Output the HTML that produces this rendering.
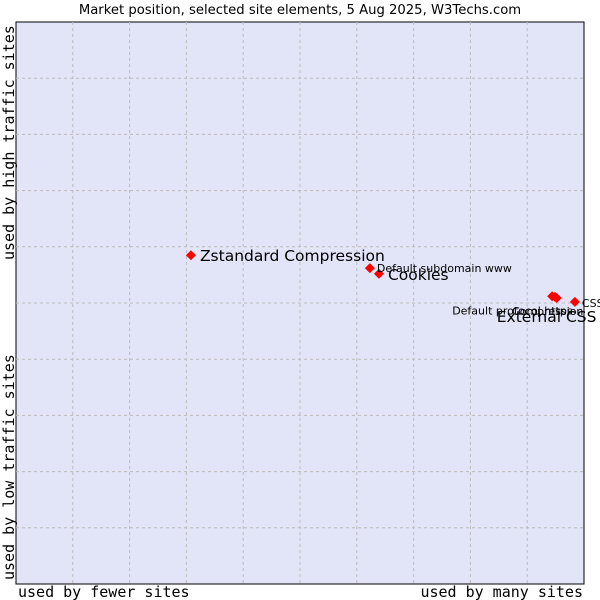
<!DOCTYPE html>
<html><head><meta charset="utf-8"><style>
body{margin:0;background:#fff;}
svg{display:block;font-family:"DejaVu Sans",sans-serif;}
</style></head><body>
<svg id="chart" width="600" height="600">
<text x="300" y="14" text-anchor="middle" font-size="13.2" fill="#000">Market position, selected site elements, 5 Aug 2025, W3Techs.com</text>
<rect x="16" y="22" width="568" height="562" fill="#e2e4f8" stroke="#000" stroke-width="1"/>
<g id="grid"></g>
<text x="14" y="580" transform="rotate(-90 14 580)" font-family="DejaVu Sans Mono,monospace" font-size="15">used by low traffic sites</text>
<text x="14" y="260" transform="rotate(-90 14 260)" font-family="DejaVu Sans Mono,monospace" font-size="15">used by high traffic sites</text>
<text x="18" y="597" font-family="DejaVu Sans Mono,monospace" font-size="15">used by fewer sites</text>
<text x="583" y="597" text-anchor="end" font-family="DejaVu Sans Mono,monospace" font-size="15">used by many sites</text>
<g id="marks"></g>
</svg>
<script>
const names = ["Zstandard Compression","Default subdomain www","Cookies","Default protocol https","Compression","External CSS","CSS"];
const xValues = [30.8,62.3,63.9,94.4,94.9,95.2,98.4];
const yValues = [58.5,56.2,55.2,51.2,51.1,50.9,50.2];
const bigLabel = [true,false,true,false,false,true,false];
const labelDx = [9,7,9,-100,-43,-60,7];
const labelDy = [6,4,6,18,18,24,5];
const X0=16,X1=584,Y0=584,Y1=22;
const sx=v=>X0+(X1-X0)*v/100;
const sy=v=>Y0-(Y0-Y1)*v/100;
const ns="http://www.w3.org/2000/svg";
const grid=document.getElementById('grid');
for(let i=1;i<10;i++){
  const gx=document.createElementNS(ns,'line');
  gx.setAttribute('x1',sx(i*10));gx.setAttribute('x2',sx(i*10));gx.setAttribute('y1',Y1);gx.setAttribute('y2',Y0);
  gx.setAttribute('stroke','#bbb');gx.setAttribute('stroke-dasharray','3,3');
  
  
  grid.appendChild(gx);
  const gy=document.createElementNS(ns,'line');
  gy.setAttribute('y1',sy(i*10));gy.setAttribute('y2',sy(i*10));gy.setAttribute('x1',X0);gy.setAttribute('x2',X1);
  gy.setAttribute('stroke','#bbb');gy.setAttribute('stroke-dasharray','3,3');
  
  
  grid.appendChild(gy);
}
const marks=document.getElementById('marks');
names.forEach((n,i)=>{
  const px=sx(xValues[i]),py=sy(yValues[i]);
  const p=document.createElementNS(ns,'path');
  p.setAttribute('d',`M${px} ${py-5}L${px+5} ${py}L${px} ${py+5}L${px-5} ${py}Z`);
  p.setAttribute('fill','#f00');
  
  
  marks.appendChild(p);
});
names.forEach((n,i)=>{
  const px=sx(xValues[i]),py=sy(yValues[i]);
  const t=document.createElementNS(ns,'text');
  t.setAttribute('x',px+labelDx[i]);t.setAttribute('y',py+labelDy[i]);
  t.setAttribute('font-size',bigLabel[i]?15.5:11);
  t.textContent=n;
  
  
  marks.appendChild(t);
});
</script>
</body></html>
